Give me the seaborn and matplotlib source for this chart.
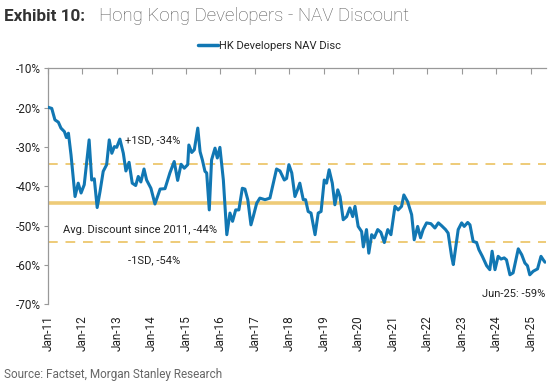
import numpy as np
import pandas as pd
import matplotlib
matplotlib.use('Agg')
import matplotlib.pyplot as plt
import matplotlib.dates as mdates
from matplotlib.ticker import FuncFormatter, MultipleLocator
import seaborn as sns

# months since Jan-11 and NAV discount (%)
months = [0, 1.3, 2.4, 3.6, 4.5, 5.7, 6.4, 7.1, 8.0, 9.4, 10.5, 11.5, 12.6, 14.3, 15.2, 16.1,
          17.1, 18.1, 19.2, 20.4, 21.3, 22.2, 23.1, 23.9, 25.0, 26.2, 27.1, 28.2, 29.3, 30.5,
          31.4, 32.3, 33.4, 34.3, 35.8, 37.2, 39.0, 40.7, 42.4, 43.9, 45.1, 46.3, 47.4, 48.6,
          49.0, 50.0, 50.9, 52.1, 52.9, 53.7, 54.6, 55.2, 56.1, 56.9, 58.1, 58.9, 59.8, 61.0,
          62.2, 63.3, 64.2, 65.3, 66.4, 67.6, 68.5, 69.5, 70.6, 71.4, 72.6, 73.7, 75.5, 77.2,
          78.4, 79.5, 80.7, 82.2, 83.0, 83.8, 84.8, 85.9, 86.8, 87.6, 88.8, 89.6, 90.5, 91.5,
          92.9, 94.0, 95.0, 96.1, 96.9, 97.8, 98.9, 99.8, 100.8, 101.6, 102.7, 103.9, 105.0,
          106.0, 106.8, 107.9, 109.1, 109.7, 110.8, 111.6, 112.6, 113.5, 114.7, 115.8, 117.0,
          118.2, 119.3, 120.7, 121.8, 123.0, 123.8, 125.1, 126.5, 127.4, 128.6, 129.6, 130.5,
          131.7, 133.2, 134.6, 135.8, 136.9, 138.3, 139.2, 140.4, 141.0, 141.8, 142.7, 143.9,
          144.8, 146.0, 146.8, 147.9, 149.1, 149.9, 151.1, 152.6, 153.7, 154.5, 155.5, 156.6,
          157.6, 158.7, 159.5, 160.7, 161.8, 163.6, 164.8, 165.9, 166.8, 167.6, 168.8, 170.3,
          171.5, 172.3, 172.9]
disc = [-19.9, -20.2, -23.1, -23.7, -25.2, -26.1, -27.6, -26.5, -32.0, -42.6, -39.2, -41.7,
        -39.6, -28.2, -38.4, -38.1, -45.4, -41.3, -36.2, -34.5, -28.2, -31.6, -29.9, -30.1,
        -28.0, -31.6, -36.1, -33.9, -39.2, -39.8, -37.5, -38.9, -35.6, -38.4, -40.5, -44.5,
        -40.7, -40.6, -36.6, -33.7, -38.5, -34.4, -35.4, -34.5, -29.5, -31.4, -30.7, -25.2,
        -31.2, -33.3, -36.2, -36.6, -46.0, -33.3, -30.3, -32.8, -30.1, -38.4, -52.3, -46.8,
        -48.9, -46.0, -46.0, -40.5, -40.7, -43.4, -49.8, -47.7, -44.3, -43.0, -43.4, -43.0,
        -39.2, -35.6, -36.1, -38.4, -38.0, -34.5, -36.6, -42.6, -40.9, -39.2, -43.4, -43.4,
        -46.4, -46.8, -52.3, -46.8, -46.4, -38.4, -39.2, -35.8, -39.2, -44.7, -40.9, -42.6,
        -48.5, -47.7, -45.5, -47.7, -45.1, -50.2, -51.5, -55.4, -51.0, -57.0, -52.3, -53.1,
        -51.0, -51.7, -54.3, -51.0, -52.3, -45.1, -46.0, -45.1, -42.2, -43.9, -47.2, -53.6,
        -50.2, -53.1, -51.0, -49.3, -49.5, -50.6, -49.3, -50.0, -51.0, -51.9, -57.8, -59.9,
        -55.7, -51.0, -49.3, -50.2, -49.2, -49.8, -54.0, -54.3, -56.1, -57.8, -60.2, -61.2,
        -56.5, -61.2, -57.8, -58.5, -58.2, -58.7, -62.5, -62.0, -55.9, -57.4, -59.5, -60.2,
        -62.5, -61.6, -61.0, -57.8, -58.7, -59.3]

avg_disc = -44.2
plus_sd = -34.3
minus_sd = -54.1
year_ticks = [f'{y}-01-01' for y in range(2011, 2026)]

start = pd.Timestamp('2011-01-01')
def m2d(m):
    return start + pd.to_timedelta(np.asarray(m) * 30.4375, unit='D')

df = pd.DataFrame({'date': m2d(months), 'disc': disc})

sns.set_style('white')
plt.rcParams['font.family'] = ['Roboto', 'DejaVu Sans']

blue = '#1177b3'
gold = '#eecb78'
grey_txt = '#222222'

fig = plt.figure(figsize=(5.5, 3.85), dpi=100)
ax = fig.add_axes([0.0873, 0.2096, 0.9057, 0.613])

ax.axhline(avg_disc, color=gold, lw=2.6, zorder=1)
ax.axhline(plus_sd, color=gold, lw=1.4, ls=(0, (5, 4)), zorder=1)
ax.axhline(minus_sd, color=gold, lw=1.4, ls=(0, (5, 4)), zorder=1)
sns.lineplot(data=df, x='date', y='disc', color=blue, lw=2.2, ax=ax,
             label='HK Developers NAV Disc', zorder=3)

ax.set_ylim(-70, -10)
ax.set_xlim(start, m2d(173.3))
ax.yaxis.set_major_locator(MultipleLocator(10))
ax.yaxis.set_major_formatter(FuncFormatter(lambda v, p: f'{v:.0f}%'))
ax.set_xticks(pd.to_datetime(year_ticks))
ax.xaxis.set_major_formatter(mdates.DateFormatter('%b-%y'))
ax.set_xlabel('')
ax.set_ylabel('')

for s in ['right', 'bottom']:
    ax.spines[s].set_visible(False)
ax.spines['top'].set_color('#999999')
ax.spines['left'].set_color('#999999')
ax.spines['top'].set_linewidth(0.9)
ax.spines['left'].set_linewidth(0.9)
ax.tick_params(axis='x', which='both', top=True, bottom=False, direction='in', length=4,
               color='#999999', labelsize=8.5, rotation=90, labelcolor=grey_txt, pad=8)
ax.tick_params(axis='y', left=True, direction='out', length=3, color='#999999',
               labelsize=8.5, labelcolor=grey_txt, pad=2)

ax.text(m2d(26.8), -28.2, '+1SD, -34%', fontsize=8, color=grey_txt, va='center')
ax.text(m2d(5.2), -51.0, 'Avg. Discount since 2011, -44%', fontsize=8, color=grey_txt, va='center')
ax.text(m2d(27.8), -58.9, '-1SD, -54%', fontsize=8, color=grey_txt, va='center')
ax.text(m2d(172.9), -67.3, 'Jun-25: -59%', fontsize=8, color=grey_txt, va='center', ha='right')

leg = ax.legend(loc='center', bbox_to_anchor=(0.445, 1.095), frameon=False, fontsize=8,
                handlelength=1.8, handletextpad=0.1)
leg.get_lines()[0].set_linewidth(2.5)

fig.text(0.007, 0.958, 'Exhibit 10:', fontsize=12.3, fontweight='bold', color='#333333',
         va='center')
fig.text(0.18, 0.958, 'Hong Kong Developers - NAV Discount', fontsize=13.4, fontweight='light',
         color='#555555', va='center')
fig.text(0.007, 0.028, 'Source: Factset, Morgan Stanley Research', fontsize=8.5, color='#666666',
         va='center')

fig.savefig('out.png', dpi=100)
